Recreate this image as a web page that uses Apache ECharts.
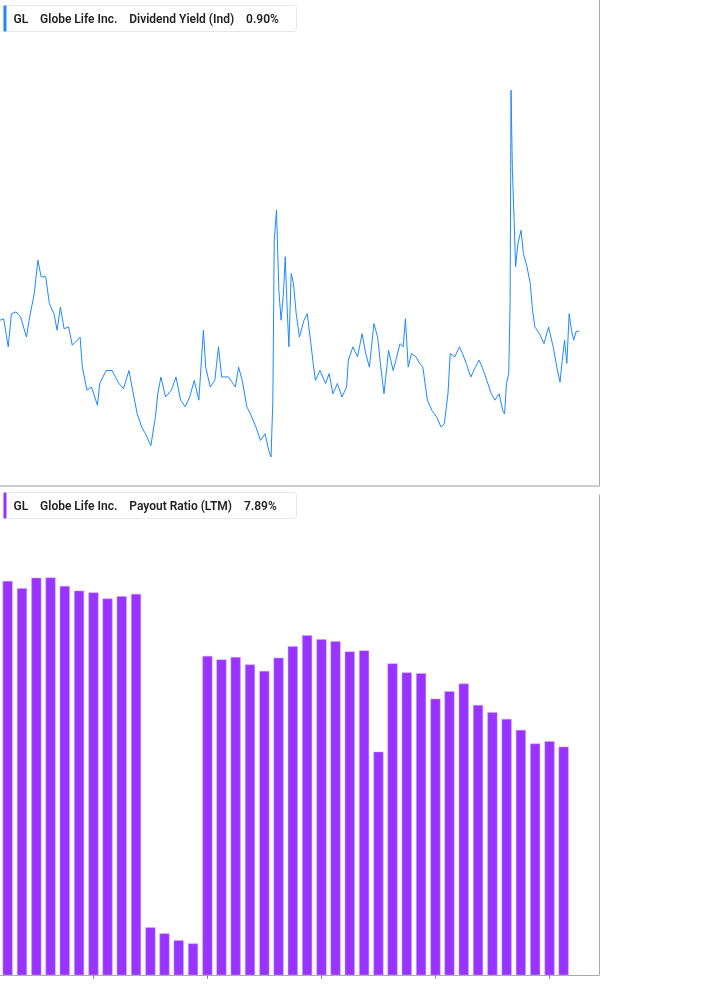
<!DOCTYPE html>
<html>
<head>
<meta charset="utf-8">
<script src="https://cdn.jsdelivr.net/npm/echarts@6/dist/echarts.min.js"></script>
<style>
  html, body { margin: 0; padding: 0; background: #fff; }
  #chart { width: 717px; height: 1005px; }
</style>
</head>
<body>
<div id="chart"></div>
<script>
// 股息率 (日期用小数年份表示)
var yieldYears = [2015.45, 2015.513, 2015.592, 2015.647, 2015.726, 2015.805, 2015.907, 2015.962, 2016.041, 2016.104,
  2016.159, 2016.238, 2016.301, 2016.38, 2016.435, 2016.491, 2016.554, 2016.632, 2016.696, 2016.83,
  2016.869, 2016.948, 2017.027, 2017.129, 2017.169, 2017.279, 2017.381, 2017.5, 2017.578, 2017.673,
  2017.736, 2017.815, 2017.894, 2017.957, 2018.051, 2018.13, 2018.17, 2018.225, 2018.304, 2018.406,
  2018.485, 2018.564, 2018.643, 2018.722, 2018.80, 2018.879, 2018.958, 2018.997, 2019.076, 2019.155,
  2019.218, 2019.273, 2019.392, 2019.51, 2019.565, 2019.628, 2019.707, 2019.77, 2019.865, 2019.943,
  2020.022, 2020.085, 2020.125, 2020.156, 2020.18, 2020.219, 2020.259, 2020.298, 2020.338, 2020.369,
  2020.401, 2020.432, 2020.472, 2020.511, 2020.558, 2020.613, 2020.692, 2020.748, 2020.811, 2020.85,
  2020.889, 2020.968, 2021.063, 2021.126, 2021.189, 2021.268, 2021.347, 2021.426, 2021.457, 2021.536,
  2021.615, 2021.694, 2021.757, 2021.82, 2021.898, 2021.962, 2022.017, 2022.072, 2022.151, 2022.23,
  2022.277, 2022.348, 2022.403, 2022.442, 2022.49, 2022.545, 2022.624, 2022.687, 2022.742, 2022.821,
  2022.90, 2022.979, 2023.057, 2023.113, 2023.176, 2023.215, 2023.294, 2023.373, 2023.428, 2023.491,
  2023.57, 2023.649, 2023.712, 2023.767, 2023.846, 2023.925, 2023.987, 2024.058, 2024.122, 2024.153,
  2024.185, 2024.224, 2024.248, 2024.264, 2024.287, 2024.319, 2024.342, 2024.382, 2024.437, 2024.476,
  2024.539, 2024.595, 2024.634, 2024.674, 2024.752, 2024.831, 2024.91, 2024.989, 2025.052, 2025.107,
  2025.146, 2025.186, 2025.225, 2025.265, 2025.304, 2025.344, 2025.383, 2025.438];
var yieldValues = [0.929, 0.933, 0.859, 0.947, 0.952, 0.938, 0.884, 0.938, 1.005, 1.109,
  1.056, 1.056, 0.976, 0.947, 0.902, 0.966, 0.906, 0.911, 0.863, 0.884,
  0.809, 0.756, 0.763, 0.723, 0.771, 0.801, 0.801, 0.771, 0.759, 0.801,
  0.756, 0.705, 0.678, 0.665, 0.642, 0.699, 0.748, 0.786, 0.741, 0.756,
  0.786, 0.734, 0.720, 0.741, 0.778, 0.734, 0.902, 0.809, 0.763, 0.778,
  0.859, 0.786, 0.786, 0.763, 0.809, 0.778, 0.720, 0.705, 0.678, 0.652,
  0.665, 0.633, 0.621, 0.734, 1.176, 1.285, 1.015, 0.929, 1.005, 1.120,
  0.966, 0.859, 1.066, 1.035, 0.947, 0.884, 0.929, 0.947, 0.867, 0.818,
  0.778, 0.801, 0.771, 0.794, 0.748, 0.771, 0.741, 0.763, 0.826, 0.859,
  0.834, 0.893, 0.842, 0.809, 0.920, 0.884, 0.809, 0.748, 0.850, 0.801,
  0.826, 0.867, 0.859, 0.933, 0.809, 0.842, 0.834, 0.818, 0.809, 0.734,
  0.712, 0.699, 0.678, 0.685, 0.748, 0.842, 0.834, 0.859, 0.842, 0.818,
  0.786, 0.809, 0.826, 0.809, 0.778, 0.748, 0.734, 0.748, 0.712, 0.705,
  0.771, 0.794, 0.985, 1.83, 1.446, 1.235, 1.087, 1.165, 1.211, 1.131,
  1.087, 1.035, 0.957, 0.911, 0.893, 0.867, 0.911, 0.859, 0.809, 0.774,
  0.826, 0.876, 0.818, 0.947, 0.902, 0.876, 0.898, 0.90];

// 派息率 (季度)
var payoutDates = ['2015-07-01', '2015-10-01', '2016-01-01', '2016-04-01', '2016-07-01', '2016-10-01',
  '2017-01-01', '2017-04-01', '2017-07-01', '2017-10-01', '2018-01-01', '2018-04-01', '2018-07-01', '2018-10-01',
  '2019-01-01', '2019-04-01', '2019-07-01', '2019-10-01', '2020-01-01', '2020-04-01', '2020-07-01', '2020-10-01',
  '2021-01-01', '2021-04-01', '2021-07-01', '2021-10-01', '2022-01-01', '2022-04-01', '2022-07-01', '2022-10-01',
  '2023-01-01', '2023-04-01', '2023-07-01', '2023-10-01', '2024-01-01', '2024-04-01', '2024-07-01', '2024-10-01',
  '2025-01-01', '2025-04-01'];
var payoutValues = [12.57, 12.31, 12.68, 12.69, 12.39, 12.23, 12.17, 11.96, 12.04, 12.12,
  4.75, 4.67, 4.58, 4.54, 10.18, 10.08, 10.15, 9.94, 9.76, 10.13,
  10.46, 10.79, 10.67, 10.61, 10.31, 10.34, 7.78, 9.97, 9.72, 9.70,
  9.03, 9.22, 9.42, 8.87, 8.69, 8.53, 8.27, 7.96, 8.01, 7.89];

// 刻度
var yieldTicks = [0.57, 0.68, 0.79, 1.00, 2.00];
var payoutTicks = [5, 6, 7, 10, 12, 14, 16];
var yieldLast = 0.90;
var payoutLast = 7.89;

// 小数年份 -> 时间戳
function yearToTime(y) {
    var yr = Math.floor(y);
    var start = Date.UTC(yr, 0, 1), end = Date.UTC(yr + 1, 0, 1);
    return start + (y - yr) * (end - start);
}

var blue = '#1e88ff';
var purple = '#9933ff';
var xMin = yearToTime(2015.45);
var xMax = yearToTime(2025.78);

function tickLines(ticks) {
    var arr = [];
    for (var i in ticks) {
        arr.push({
            yAxis: ticks[i],
            label: { formatter: ticks[i].toFixed(2) + '%' }
        });
    }
    return arr;
}

function lastLabel(val, text, color) {
    return {
        yAxis: val,
        lineStyle: { opacity: 0 },
        label: {
            show: true,
            position: 'end',
            distance: 0,
            formatter: text + '\n' + val.toFixed(2) + '%',
            backgroundColor: color,
            color: '#fff',
            fontWeight: 'bold',
            fontSize: 11,
            lineHeight: 13,
            width: 102,
            align: 'left',
            padding: [2, 8, 2, 8]
        }
    };
}

var labelStyle = {
    show: true,
    position: 'end',
    distance: 9,
    color: '#555',
    fontSize: 11,
    fontFamily: 'Roboto'
};

var yieldData = [];
for (var i in yieldYears) {
    yieldData.push([yearToTime(yieldYears[i]), yieldValues[i]]);
}
var payoutData = [];
for (var i in payoutDates) {
    payoutData.push([payoutDates[i], payoutValues[i]]);
}

function headerBox(top, color, text) {
    return {
        type: 'group', left: 3, top: top,
        children: [{
            type: 'rect', shape: { x: 0, y: 0, width: 293, height: 26, r: 3 },
            style: { fill: '#fff', stroke: '#e6e6e6', lineWidth: 1 }
        }, {
            type: 'rect', shape: { x: 0, y: 0, width: 3, height: 26 },
            style: { fill: color }
        }, {
            type: 'text', x: 10, y: 8,
            style: { text: text, fill: '#222', font: '600 12px Roboto' }
        }]
    };
}

var option = {
    animation: false,
    textStyle: { fontFamily: 'Roboto' },
    grid: [
        { left: 0, top: 0, width: 599, height: 486 },
        { left: 0, top: 495, width: 599, height: 480 }
    ],
    xAxis: [{
        type: 'time', gridIndex: 0, min: xMin, max: xMax,
        axisLine: { show: true, lineStyle: { color: '#ccc', width: 2 } },
        axisTick: { show: false }, axisLabel: { show: false }, splitLine: { show: false }
    }, {
        type: 'time', gridIndex: 1, min: xMin, max: xMax,
        axisLine: { show: true, lineStyle: { color: '#aaa', width: 1 } },
        axisTick: {
            show: true, length: 4, lineStyle: { color: '#888' },
            interval: function(idx, v) { var d = new Date(v); return d.getUTCMonth() == 0 && d.getUTCFullYear() % 2 == 0; }
        },
        axisLabel: {
            color: '#555', fontSize: 12, fontWeight: 'bold', margin: 8,
            formatter: function(v) {
                var d = new Date(v);
                return (d.getUTCMonth() == 0 && d.getUTCFullYear() % 2 == 0) ? String(d.getUTCFullYear()) : '';
            }
        },
        splitLine: { show: false }
    }],
    yAxis: [{
        type: 'log', gridIndex: 0, position: 'right', min: 0.57, max: 2.387,
        axisLine: { show: true, lineStyle: { color: '#aaa' } },
        axisTick: { show: false }, axisLabel: { show: false }, splitLine: { show: false }
    }, {
        type: 'log', gridIndex: 1, position: 'right', min: 4.155, max: 16,
        axisLine: { show: true, lineStyle: { color: '#aaa' } },
        axisTick: { show: false }, axisLabel: { show: false }, splitLine: { show: false }
    }],
    graphic: [
        headerBox(5, blue, 'GL    Globe Life Inc.    Dividend Yield (Ind)    0.90%'),
        headerBox(492, purple, 'GL    Globe Life Inc.    Payout Ratio (LTM)    7.89%')
    ],
    series: [{
        name: 'Dividend Yield (Ind)',
        type: 'line',
        xAxisIndex: 0, yAxisIndex: 0,
        data: yieldData,
        showSymbol: false,
        lineStyle: { color: blue, width: 1 },
        markLine: {
            silent: true, symbol: 'none',
            lineStyle: { opacity: 0 },
            label: labelStyle,
            data: tickLines(yieldTicks).concat([lastLabel(yieldLast, 'Div Yld (Ind)', blue)])
        }
    }, {
        name: 'Payout Ratio (LTM)',
        type: 'bar',
        xAxisIndex: 1, yAxisIndex: 1,
        data: payoutData,
        barWidth: 10,
        itemStyle: { color: purple, borderColor: '#c9a0ff', borderWidth: 0.5 },
        markLine: {
            silent: true, symbol: 'none',
            lineStyle: { opacity: 0 },
            label: labelStyle,
            data: tickLines(payoutTicks).concat([lastLabel(payoutLast, 'Payout Ratio (LTM)', '#8a1cf5')])
        }
    }]
};

var myChart = echarts.init(document.getElementById('chart'));
myChart.setOption(option);
</script>
</body>
</html>
